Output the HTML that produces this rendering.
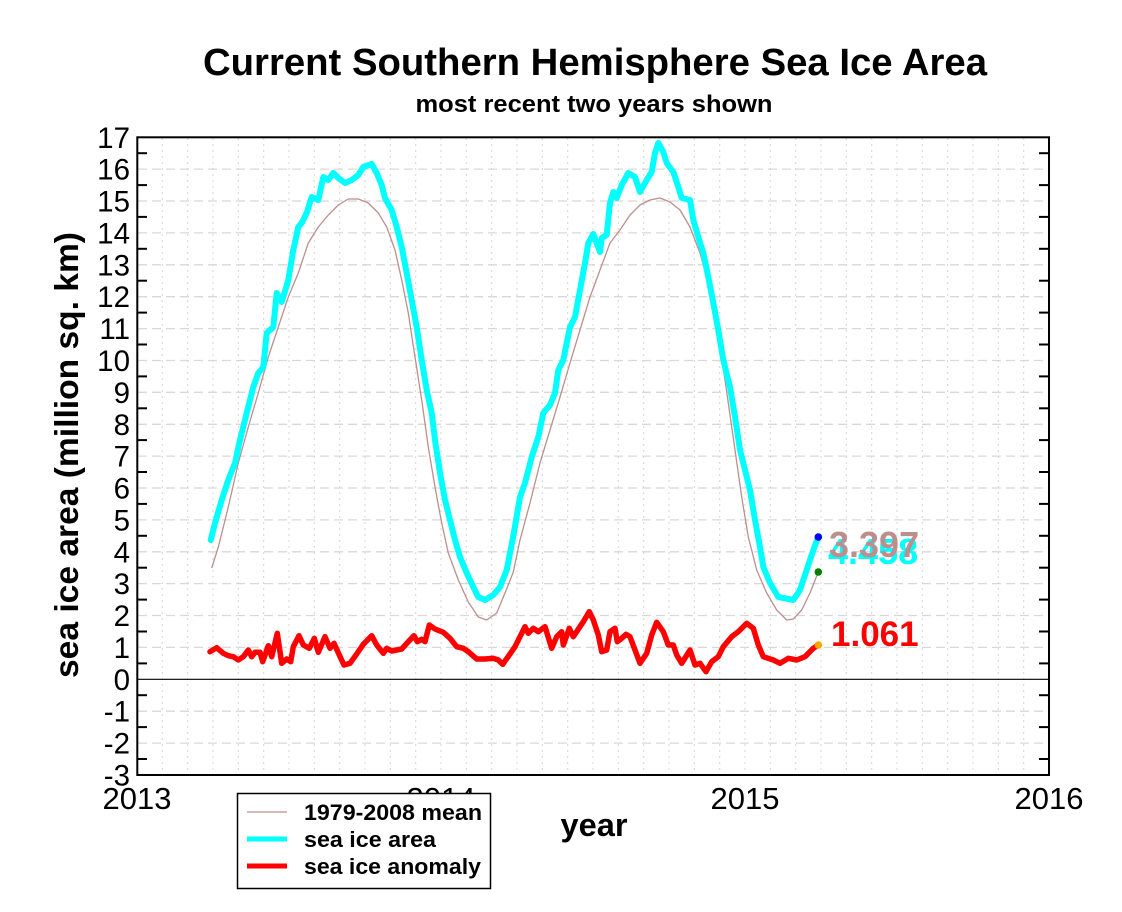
<!DOCTYPE html>
<html>
<head>
<meta charset="utf-8">
<style>
  html, body { margin: 0; padding: 0; background: #fff; }
  svg { display: block; }
  text { font-family: "Liberation Sans", Arial, sans-serif; }
</style>
</head>
<body>
<svg width="1122" height="912" viewBox="0 0 1122 912" xmlns="http://www.w3.org/2000/svg">
  <rect x="0" y="0" width="1122" height="912" fill="#fff"/>

  <!-- Title -->
  <text x="595" y="75" font-size="38" font-weight="bold" text-anchor="middle" textLength="784" lengthAdjust="spacingAndGlyphs">Current Southern Hemisphere Sea Ice Area</text>
  <text x="594" y="112" font-size="24" font-weight="bold" text-anchor="middle" textLength="357" lengthAdjust="spacingAndGlyphs">most recent two years shown</text>

  <!-- Vertical dotted monthly grid -->
  <g stroke="#d4d4d4" stroke-width="1" stroke-dasharray="2,4">
    <line x1="162.3" y1="138" x2="162.3" y2="775"/>
    <line x1="187.7" y1="138" x2="187.7" y2="775"/>
    <line x1="213.0" y1="138" x2="213.0" y2="775"/>
    <line x1="238.3" y1="138" x2="238.3" y2="775"/>
    <line x1="263.7" y1="138" x2="263.7" y2="775"/>
    <line x1="289.0" y1="138" x2="289.0" y2="775"/>
    <line x1="314.3" y1="138" x2="314.3" y2="775"/>
    <line x1="339.7" y1="138" x2="339.7" y2="775"/>
    <line x1="365.0" y1="138" x2="365.0" y2="775"/>
    <line x1="390.3" y1="138" x2="390.3" y2="775"/>
    <line x1="415.7" y1="138" x2="415.7" y2="775"/>
    <line x1="441.0" y1="138" x2="441.0" y2="775"/>
    <line x1="466.3" y1="138" x2="466.3" y2="775"/>
    <line x1="491.7" y1="138" x2="491.7" y2="775"/>
    <line x1="517.0" y1="138" x2="517.0" y2="775"/>
    <line x1="542.3" y1="138" x2="542.3" y2="775"/>
    <line x1="567.7" y1="138" x2="567.7" y2="775"/>
    <line x1="593.0" y1="138" x2="593.0" y2="775"/>
    <line x1="618.3" y1="138" x2="618.3" y2="775"/>
    <line x1="643.7" y1="138" x2="643.7" y2="775"/>
    <line x1="669.0" y1="138" x2="669.0" y2="775"/>
    <line x1="694.3" y1="138" x2="694.3" y2="775"/>
    <line x1="719.7" y1="138" x2="719.7" y2="775"/>
    <line x1="745.0" y1="138" x2="745.0" y2="775"/>
    <line x1="770.3" y1="138" x2="770.3" y2="775"/>
    <line x1="795.7" y1="138" x2="795.7" y2="775"/>
    <line x1="821.0" y1="138" x2="821.0" y2="775"/>
    <line x1="846.3" y1="138" x2="846.3" y2="775"/>
    <line x1="871.7" y1="138" x2="871.7" y2="775"/>
    <line x1="897.0" y1="138" x2="897.0" y2="775"/>
    <line x1="922.3" y1="138" x2="922.3" y2="775"/>
    <line x1="947.7" y1="138" x2="947.7" y2="775"/>
    <line x1="973.0" y1="138" x2="973.0" y2="775"/>
    <line x1="998.3" y1="138" x2="998.3" y2="775"/>
    <line x1="1023.7" y1="138" x2="1023.7" y2="775"/>
  </g>

  <!-- Horizontal dashed grid -->
  <g stroke="#d8d8d8" stroke-width="1.3" stroke-dasharray="9,5">
    <line x1="138" y1="169.1" x2="1049" y2="169.1"/>
    <line x1="138" y1="201.0" x2="1049" y2="201.0"/>
    <line x1="138" y1="232.9" x2="1049" y2="232.9"/>
    <line x1="138" y1="264.8" x2="1049" y2="264.8"/>
    <line x1="138" y1="296.7" x2="1049" y2="296.7"/>
    <line x1="138" y1="328.6" x2="1049" y2="328.6"/>
    <line x1="138" y1="360.5" x2="1049" y2="360.5"/>
    <line x1="138" y1="392.3" x2="1049" y2="392.3"/>
    <line x1="138" y1="424.3" x2="1049" y2="424.3"/>
    <line x1="138" y1="456.1" x2="1049" y2="456.1"/>
    <line x1="138" y1="488.0" x2="1049" y2="488.0"/>
    <line x1="138" y1="519.9" x2="1049" y2="519.9"/>
    <line x1="138" y1="551.8" x2="1049" y2="551.8"/>
    <line x1="138" y1="583.6" x2="1049" y2="583.6"/>
    <line x1="138" y1="615.5" x2="1049" y2="615.5"/>
    <line x1="138" y1="647.4" x2="1049" y2="647.4"/>
    <line x1="138" y1="711.2" x2="1049" y2="711.2"/>
    <line x1="138" y1="743.1" x2="1049" y2="743.1"/>
  </g>

  <!-- Zero line -->
  <line x1="137" y1="679.3" x2="1049" y2="679.3" stroke="#000" stroke-width="1.2"/>

  <!-- Minor ticks left & right -->
  <g stroke="#000" stroke-width="2">
    <line x1="137" y1="153.2" x2="147" y2="153.2"/><line x1="1039" y1="153.2" x2="1049" y2="153.2"/>
    <line x1="137" y1="185.1" x2="147" y2="185.1"/><line x1="1039" y1="185.1" x2="1049" y2="185.1"/>
    <line x1="137" y1="216.9" x2="147" y2="216.9"/><line x1="1039" y1="216.9" x2="1049" y2="216.9"/>
    <line x1="137" y1="248.8" x2="147" y2="248.8"/><line x1="1039" y1="248.8" x2="1049" y2="248.8"/>
    <line x1="137" y1="280.7" x2="147" y2="280.7"/><line x1="1039" y1="280.7" x2="1049" y2="280.7"/>
    <line x1="137" y1="312.6" x2="147" y2="312.6"/><line x1="1039" y1="312.6" x2="1049" y2="312.6"/>
    <line x1="137" y1="344.5" x2="147" y2="344.5"/><line x1="1039" y1="344.5" x2="1049" y2="344.5"/>
    <line x1="137" y1="376.4" x2="147" y2="376.4"/><line x1="1039" y1="376.4" x2="1049" y2="376.4"/>
    <line x1="137" y1="408.3" x2="147" y2="408.3"/><line x1="1039" y1="408.3" x2="1049" y2="408.3"/>
    <line x1="137" y1="440.1" x2="147" y2="440.1"/><line x1="1039" y1="440.1" x2="1049" y2="440.1"/>
    <line x1="137" y1="472.0" x2="147" y2="472.0"/><line x1="1039" y1="472.0" x2="1049" y2="472.0"/>
    <line x1="137" y1="503.9" x2="147" y2="503.9"/><line x1="1039" y1="503.9" x2="1049" y2="503.9"/>
    <line x1="137" y1="535.8" x2="147" y2="535.8"/><line x1="1039" y1="535.8" x2="1049" y2="535.8"/>
    <line x1="137" y1="567.7" x2="147" y2="567.7"/><line x1="1039" y1="567.7" x2="1049" y2="567.7"/>
    <line x1="137" y1="599.6" x2="147" y2="599.6"/><line x1="1039" y1="599.6" x2="1049" y2="599.6"/>
    <line x1="137" y1="631.5" x2="147" y2="631.5"/><line x1="1039" y1="631.5" x2="1049" y2="631.5"/>
    <line x1="137" y1="663.4" x2="147" y2="663.4"/><line x1="1039" y1="663.4" x2="1049" y2="663.4"/>
    <line x1="137" y1="695.2" x2="147" y2="695.2"/><line x1="1039" y1="695.2" x2="1049" y2="695.2"/>
    <line x1="137" y1="727.1" x2="147" y2="727.1"/><line x1="1039" y1="727.1" x2="1049" y2="727.1"/>
    <line x1="137" y1="759.0" x2="147" y2="759.0"/><line x1="1039" y1="759.0" x2="1049" y2="759.0"/>
  </g>

  <!-- Plot frame -->
  <rect x="137.3" y="137.3" width="911.7" height="637.7" fill="none" stroke="#000" stroke-width="2"/>

  <!-- Mean curve -->
  <polyline fill="none" stroke="#bc8f8f" stroke-width="1.3" stroke-linejoin="round"
    points="211.7,568 218.3,547 228.3,507 238.3,463 248.3,427 258.3,393 268.3,357 278.3,327 288.3,297 298.3,273 308.3,243 318.3,227 328.3,215 338.3,205 348.3,199 358.3,199 368.3,203 378.3,213 386.7,227 395,250 401.7,280 408.3,313 415,357 421.7,400 428.3,447 435,487 441.7,523 448.3,553 458.3,580 468.3,602 478.3,617 486.7,620 496.7,613 505,593 513.3,572 520,540 530,503 540,463 550,430 560,397 570,363 580,330 590,297 600,270 610,243 620,230 630,215 640,205 650,200 660,198 670,202 680,210 690,227 700,253 708.3,283 715,317 721.7,357 728.3,403 735,450 741.7,497 748.3,537 756.7,570 766.7,593 776.7,610 786.7,620 793.3,619 801.7,610 810,593 818.3,572"/>

  <!-- Sea ice area -->
  <polyline fill="none" stroke="#00ffff" stroke-width="6" stroke-linejoin="round" stroke-linecap="round"
    points="210.7,540 215,523 221.7,500 228.3,480 235,463 240,440 246.7,413 253.3,387 258.3,373 263.3,367 266.7,333 273.3,327 276.7,293 281.7,302 288.3,280 293.3,250 298.3,227 301.7,223 306.7,213 311.7,197 318.3,200 323.3,177 328.3,180 333.3,173 338.3,178 345,183 351.7,180 358.3,175 363.3,167 371.7,164 376.7,173 381.7,185 385,198 391.7,210 396.7,227 401.7,247 406.7,273 411.7,300 416.7,327 421.7,360 426.7,390 431.7,413 435,440 440,473 445,500 450,520 455,540 460,557 466.7,573 473.3,587 478.3,597 485,600 493.3,595 500,587 506.7,570 513.3,536 520,497 525,483 531.7,457 538.3,437 543.3,413 550,405 555,393 558.3,370 563.3,360 566.7,343 570,327 575,317 580,290 585,263 588.3,243 593.3,234 600,252 601.7,238 606.7,235 610,203 613.3,192 616.7,198 621.7,185 628.3,173 635,177 640,192 646.7,180 651.7,172 655,153 658.3,143 663.3,152 666.7,163 673.3,172 678.3,187 681.7,198 690,200 693.3,220 698.3,237 703.3,253 708.3,277 713.3,303 718.3,330 723.3,360 730,387 735,417 740,450 745,470 750,490 755,520 760,547 763.3,567 770,583 778.3,597 793.3,600 800,590 806.7,570 813.3,550 818.3,537"/>

  <!-- Anomaly -->
  <polyline fill="none" stroke="#ff0000" stroke-width="5.5" stroke-linejoin="round" stroke-linecap="round"
    points="210,651.7 216.7,647.7 223.3,653.3 228.3,655.7 233.3,656.7 238.3,660 243.3,656.7 248.3,650 251.7,656.7 255,652.3 260,652.3 262.7,661.7 268.3,645.7 271.7,656.7 277.3,633.3 281.7,663.3 286.7,659 290.7,661.7 293.3,646.7 299,635.7 303.3,645 309.3,648.3 314.3,638.3 318.3,652.3 325,636.7 330,648.3 334,643.3 339.3,655 344,665 350,663.3 356,655 363.3,644.3 371.7,635.7 376.7,645 383.3,653.3 386.7,648.3 391.7,651 396.7,650 401.7,649 408.3,641.7 414,635.7 417.3,641.7 421.7,639.3 425,641.7 429.3,625 435,629 443.3,632.3 450,638.3 456.7,646.7 463.3,648.3 468.3,651.7 476.7,659 485,659 493.3,658.3 498.3,660 502.7,664.3 510,654 515,646.7 520,636.7 525,626.7 528.3,633.3 533.3,628.3 538.3,631.7 545,626.7 551.7,648.3 556.7,636.7 561.7,631.7 563.3,645 569.3,628.3 573.3,636.7 583.3,621.7 589.3,611.7 593.3,620 598.3,635 601.7,651.7 606.7,650 610,631.7 615,628.3 617.3,641.7 621.7,638.3 626,634.3 630,636.7 635,650 640,663.3 646.7,653.3 651.7,635 656.7,622.3 663.3,631.7 668.3,645 673.3,645 676.7,655 681.7,663.3 690,650 695,665 700,663.3 706,671.7 711.7,661.7 718.3,656.7 723.3,646.7 731.7,636.7 738.3,631.7 746.7,623.3 753.3,628.3 758.3,645 763.3,656.7 773.3,660 780,663.3 788.3,658.3 796.7,660 805,656.7 813.3,648.3 818.3,645"/>

  <!-- End dots -->
  <circle cx="818.3" cy="537" r="3.8" fill="#0000ff"/>
  <circle cx="818.3" cy="572" r="3.8" fill="#008000"/>
  <circle cx="818.3" cy="645" r="3.8" fill="#ffa500"/>

  <!-- Value labels -->
  <text x="828" y="564" font-size="36" font-weight="bold" fill="#00ffff">4.458</text>
  <text x="829" y="557" font-size="36" font-weight="bold" fill="#bc8f8f">3.397</text>
  <text x="831" y="646" font-size="35" font-weight="bold" fill="#ff0000">1.061</text>

  <!-- Y tick labels -->
  <g font-size="29.5" text-anchor="end" fill="#000">
    <text x="130" y="147.8">17</text>
    <text x="130" y="179.6">16</text>
    <text x="130" y="211.5">15</text>
    <text x="130" y="243.4">14</text>
    <text x="130" y="275.3">13</text>
    <text x="130" y="307.2">12</text>
    <text x="130" y="339.1">11</text>
    <text x="130" y="371.0">10</text>
    <text x="130" y="402.8">9</text>
    <text x="130" y="434.8">8</text>
    <text x="130" y="466.6">7</text>
    <text x="130" y="498.5">6</text>
    <text x="130" y="530.4">5</text>
    <text x="130" y="562.3">4</text>
    <text x="130" y="594.1">3</text>
    <text x="130" y="626.0">2</text>
    <text x="130" y="657.9">1</text>
    <text x="130" y="689.8">0</text>
    <text x="130" y="721.7">-1</text>
    <text x="130" y="753.6">-2</text>
    <text x="130" y="785.5">-3</text>
  </g>

  <!-- X tick labels -->
  <g font-size="31" text-anchor="middle" fill="#000">
    <text x="137" y="809">2013</text>
    <text x="441" y="809">2014</text>
    <text x="745" y="809">2015</text>
    <text x="1049" y="809">2016</text>
  </g>

  <!-- Axis titles -->
  <text x="594" y="836" font-size="32" font-weight="bold" text-anchor="middle" textLength="67" lengthAdjust="spacingAndGlyphs">year</text>
  <text transform="translate(78,455) rotate(-90)" x="0" y="0" font-size="33" font-weight="bold" text-anchor="middle" textLength="446" lengthAdjust="spacingAndGlyphs">sea ice area (million sq. km)</text>

  <!-- Legend -->
  <rect x="237.5" y="793.5" width="253" height="95" fill="#fff" stroke="#000" stroke-width="1.5"/>
  <line x1="247" y1="812" x2="287" y2="812" stroke="#bc8f8f" stroke-width="1.3"/>
  <line x1="247" y1="839" x2="287" y2="839" stroke="#00ffff" stroke-width="5"/>
  <line x1="247" y1="866" x2="287" y2="866" stroke="#ff0000" stroke-width="5"/>
  <g font-size="22" font-weight="bold" fill="#000">
    <text x="304" y="820" textLength="178" lengthAdjust="spacingAndGlyphs">1979-2008 mean</text>
    <text x="304" y="847" textLength="132" lengthAdjust="spacingAndGlyphs">sea ice area</text>
    <text x="304" y="874" textLength="177" lengthAdjust="spacingAndGlyphs">sea ice anomaly</text>
  </g>
</svg>
</body>
</html>
